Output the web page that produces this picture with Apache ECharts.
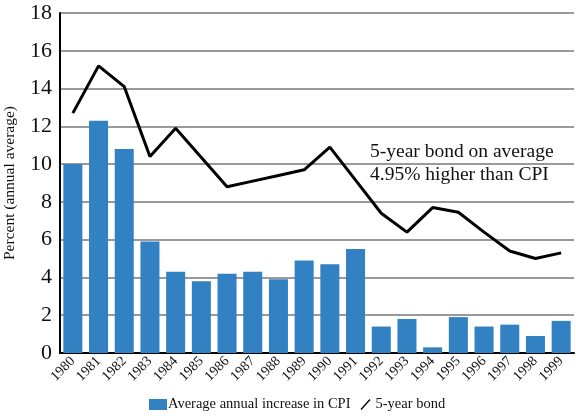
<!DOCTYPE html>
<html>
<head>
<meta charset="utf-8">
<script src="https://cdn.jsdelivr.net/npm/echarts@6/dist/echarts.min.js"></script>
<style>
  html, body { margin: 0; padding: 0; background: #fff; }
  #chart { width: 576px; height: 419px; }
</style>
</head>
<body>
<div id="chart"></div>
<script>
const years = ['1980', '1981', '1982', '1983', '1984', '1985', '1986', '1987', '1988', '1989',
  '1990', '1991', '1992', '1993', '1994', '1995', '1996', '1997', '1998', '1999']
const cpi = [10.0, 12.3, 10.8, 5.9, 4.3, 3.8, 4.2, 4.3, 3.9, 4.9,
  4.7, 5.5, 1.4, 1.8, 0.3, 1.9, 1.4, 1.5, 0.9, 1.7]
const bond = [12.7, 15.2, 14.1, 10.4, 11.9, 10.35, 8.8, 9.1, 9.4, 9.7,
  10.9, 9.15, 7.4, 6.4, 7.7, 7.45, 6.4, 5.4, 5.0, 5.3]
const noteLines = ['5-year bond on average', '4.95% higher than CPI']

const serif = '"Liberation Serif", "DejaVu Serif", serif'
const chart = echarts.init(document.getElementById('chart'))

chart.setOption({
  animation: false,
  textStyle: { fontFamily: serif },
  grid: { left: 60, right: 2, top: 13, bottom: 66, outerBoundsMode: 'none', containLabel: false },
  legend: {
    bottom: 2,
    left: 144,
    itemGap: 10,
    itemWidth: 18,
    itemHeight: 11,
    textStyle: { fontFamily: serif, fontSize: 14.5, color: '#111', padding: [0, 0, 0, -4] },
    data: [
      { name: 'Average annual increase in CPI', icon: 'rect' },
      { name: '5-year bond', icon: 'path://M0,20 L18,0 L20,2 L2,22 Z', itemStyle: { color: '#000' } },
    ],
  },
  xAxis: {
    type: 'category',
    data: years,
    axisLine: { lineStyle: { color: '#000', width: 2 } },
    axisTick: { show: false },
    axisLabel: {
      interval: 0,
      rotate: 45,
      margin: 6,
      fontFamily: serif,
      fontSize: 14,
      color: '#111',
    },
  },
  yAxis: {
    type: 'value',
    min: 0,
    max: 18,
    interval: 2,
    name: 'Percent (annual average)',
    nameLocation: 'middle',
    nameGap: 42,
    nameTextStyle: { fontFamily: serif, fontSize: 15.5, color: '#111' },
    axisLine: { show: true, lineStyle: { color: '#000', width: 2 } },
    axisTick: { show: false },
    axisLabel: { fontFamily: serif, fontSize: 22, color: '#111', margin: 8 },
    splitLine: { lineStyle: { color: '#777', width: 1.5 } },
  },
  graphic: noteLines.map((t, i) => ({
    type: 'text',
    left: 370,
    top: 142 + i * 23,
    style: { text: t, font: '19.5px ' + serif, fill: '#111' },
  })),
  series: [
    {
      name: 'Average annual increase in CPI',
      type: 'bar',
      data: cpi,
      barCategoryGap: '26%',
      itemStyle: { color: '#3181C3' },
    },
    {
      name: '5-year bond',
      type: 'line',
      data: bond,
      symbol: 'none',
      lineStyle: { color: '#000', width: 3 },
      itemStyle: { color: '#000' },
    },
  ],
})
</script>
</body>
</html>
